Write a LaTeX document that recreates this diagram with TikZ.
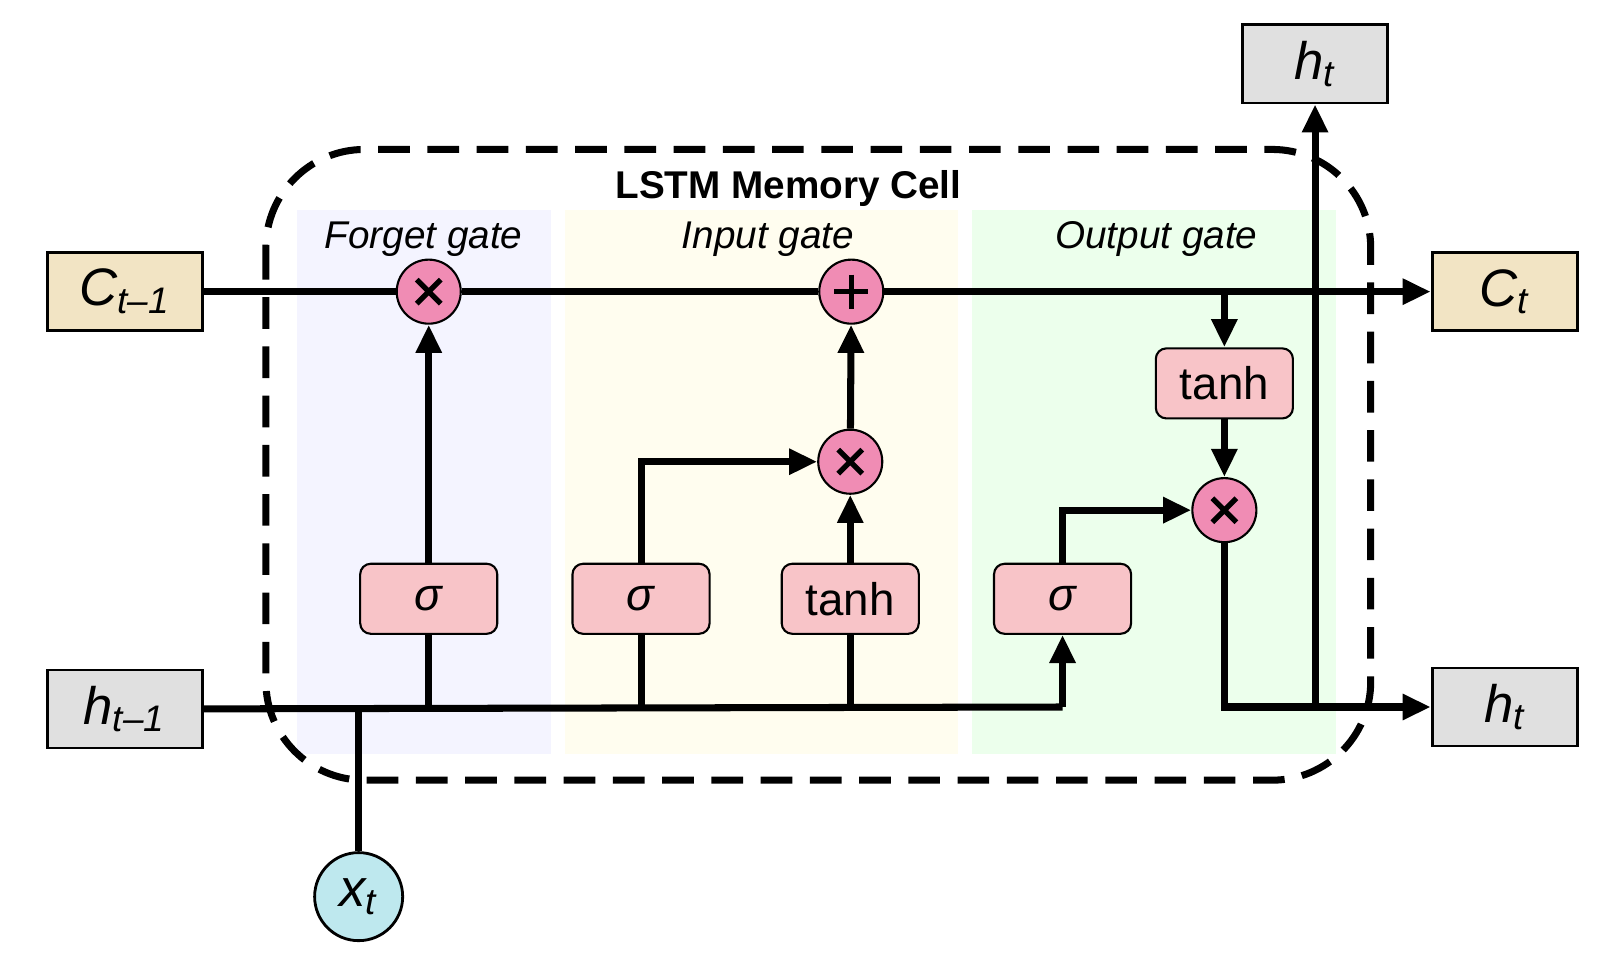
\documentclass[tikz,border=0pt]{standalone}
\usepackage{fontspec}
\setmainfont{Liberation Sans}
\usepackage{tikz}
\usetikzlibrary{arrows.meta}
\definecolor{tanbox}{RGB}{242,228,196}
\colorlet{graybox}{black!12}
\definecolor{gatebox}{RGB}{248,196,200}
\definecolor{opnode}{RGB}{240,140,180}
\definecolor{xnode}{RGB}{190,232,238}
\tikzstyle{io}=[draw,line width=.8pt,minimum width=1.55cm,minimum height=.78cm,font=\fontsize{15}{17}\selectfont\itshape]
\tikzstyle{gate}=[draw,fill=gatebox,rounded corners=3pt,line width=.6pt,minimum width=1.37cm,minimum height=.7cm,font=\fontsize{13}{15}\selectfont]
\tikzstyle{op}=[draw,circle,fill=opnode,line width=.6pt,minimum size=.64cm,inner sep=0pt]
\tikzstyle{panel}=[opacity=.6]
\tikzstyle{flow}=[line width=2pt]
\tikzstyle{arr}=[flow,-{Triangle[length=8pt,width=7pt]}]
\newcommand\lbl[2]{#1\textsubscript{#2}}
\newcommand\mult{\tikz[x=1cm,y=1cm]\draw[line width=1.5pt](-.12,-.12)--(.12,.12)(-.12,.12)--(.12,-.12);}
\newcommand\plus{\tikz[x=1cm,y=1cm]\draw[line width=1.5pt](-.17,0)--(.17,0)(0,.17)--(0,-.17);}
\begin{document}
\begin{tikzpicture}[x=0.0103cm,y=-0.0103cm]
	\useasboundingbox (0,0) rectangle (1568,944);
	\fill[white] (0,0) rectangle (1568,944);
	% gate panels
	\fill[blue!7,panel]   (288,204) rectangle (535,732);
	\fill[orange!12!yellow!10,panel](548,204) rectangle (930,732);
	\fill[green!12,panel] (943,204) rectangle (1296,732);
	\draw[line width=2pt,dash pattern=on 9pt off 5pt,rounded corners=28pt] (258,145) rectangle (1330,757);
	\node[font=\bfseries\fontsize{11}{13}\selectfont] (title) at (765,183) {LSTM Memory Cell};
	\node[font=\itshape\fontsize{11}{13}\selectfont] (fg) at (411,232) {Forget gate};
	\node[font=\itshape\fontsize{11}{13}\selectfont] (ig) at (745,232) {Input gate};
	\node[font=\itshape\fontsize{11}{13}\selectfont] (og) at (1122,232) {Output gate};
	% inputs and outputs
	\node[io,fill=tanbox]  (cprev) at (121,283) {\lbl{C}{t–1}};
	\node[io,fill=graybox] (hprev) at (121,688) {\lbl{h}{t–1}};
	\node[io,fill=tanbox,minimum width=1.45cm]  (cnext) at (1460,283) {\lbl{C}{t}};
	\node[io,fill=graybox,minimum width=1.45cm] (hnext) at (1460,686) {\lbl{h}{t}};
	\node[io,fill=graybox,minimum width=1.45cm] (hout)  at (1276,62)  {\lbl{h}{t}};
	\node[draw,circle,fill=xnode,line width=.8pt,minimum size=.88cm,inner sep=0pt,font=\fontsize{15}{17}\selectfont\itshape] (xt) at (348,870) {\lbl{x}{t}};
	% gates
	\node[gate] (sf) at (416,581) {\textit{σ}};
	\node[gate] (si) at (622,581) {\textit{σ}};
	\node[gate] (ti) at (825,581) {tanh};
	\node[gate] (so) at (1031,581) {\textit{σ}};
	\node[gate] (tc) at (1188,372) {tanh};
	% pointwise operations
	\node[op] (mf) at (416,283) {\mult};
	\node[op] (ad) at (826,283) {\plus};
	\node[op] (mi) at (825,448) {\mult};
	\node[op] (mo) at (1188,495) {\mult};
	% connectors
	\coordinate (hx) at (348,686);
	\coordinate (hend) at (1031,686);
	\coordinate (ctap) at (1188,283);
	\coordinate (htap) at (1276,686);
	\draw[flow] (cprev) -- (mf);
	\draw[flow] (mf) -- (ad);
	\draw[arr] (ad) -- (cnext);
	\draw[flow] (hprev) -- (hend);
	\draw[arr] (hend) -- (so);
	\draw[flow] (xt) -- (hx);
	\draw[flow] (sf |- hend) -- (sf);
	\draw[flow] (si |- hend) -- (si);
	\draw[flow] (ti |- hend) -- (ti);
	\draw[arr] (sf) -- (mf);
	\draw[arr] (si) |- (mi);
	\draw[arr] (ti) -- (mi);
	\draw[arr] (mi) -- (ad);
	\draw[arr] (ctap) -- (tc);
	\draw[arr] (tc) -- (mo);
	\draw[arr] (so) |- (mo);
	\draw[arr] (mo) |- (hnext);
	\draw[arr] (htap) -- (hout);
\end{tikzpicture}
\end{document}
